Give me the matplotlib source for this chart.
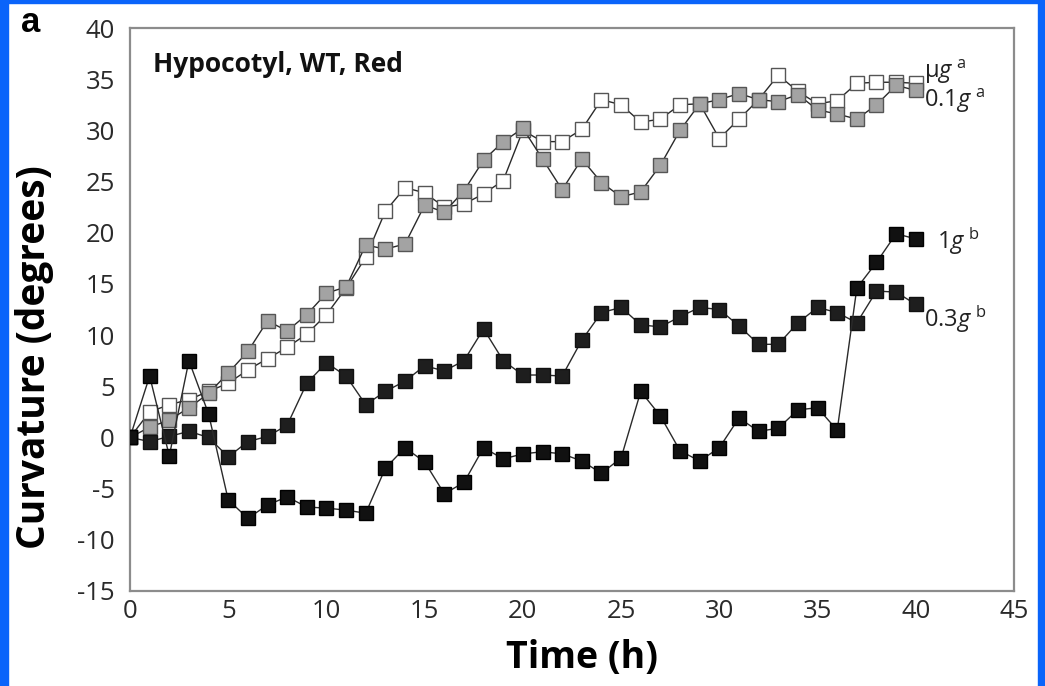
import matplotlib
matplotlib.use("Agg")
import matplotlib.pyplot as plt
from matplotlib.patches import Rectangle

plt.rcParams['font.family'] = ['Open Sans', 'DejaVu Sans']
plt.rcParams['axes.unicode_minus'] = False
plt.rcParams['mathtext.fontset'] = 'custom'
plt.rcParams['mathtext.rm'] = 'Open Sans'
plt.rcParams['mathtext.it'] = 'Open Sans:italic'

hours = list(range(41))

ug_vals = [0, 2.5, 3.2, 3.7, 4.5, 5.3, 6.6, 7.7, 8.8, 10.1, 12.0, 14.6, 17.6, 22.1,
           24.4, 23.9, 22.5, 22.8, 23.8, 25.1, 30.0, 28.9, 28.9, 30.1, 33.0, 32.5,
           30.8, 31.1, 32.5, 32.6, 29.2, 31.1, 33.0, 35.4, 33.8, 32.6, 32.9, 34.6,
           34.7, 34.7, 34.6]
g01_vals = [0, 1.0, 1.7, 2.9, 4.3, 6.3, 8.4, 11.4, 10.4, 12.0, 14.1, 14.7, 18.8, 18.4,
            18.9, 22.7, 22.0, 24.1, 27.1, 28.9, 30.2, 27.2, 24.2, 27.2, 24.9, 23.5,
            24.0, 26.6, 30.0, 32.6, 33.0, 33.6, 33.0, 32.8, 33.5, 32.0, 31.6, 31.1,
            32.5, 34.4, 33.9]
g03_vals = [0, -0.4, 0.1, 0.6, 0.0, -1.9, -0.4, 0.1, 1.2, 5.3, 7.3, 6.0, 3.2, 4.5,
            5.5, 7.0, 6.5, 7.5, 10.6, 7.5, 6.1, 6.1, 6.0, 9.5, 12.2, 12.7, 11.0, 10.8,
            11.8, 12.7, 12.5, 10.9, 9.1, 9.1, 11.2, 12.7, 12.2, 11.2, 14.3, 14.2, 13.0]
g1_vals = [0, 6.0, -1.8, 7.5, 2.3, -6.1, -7.9, -6.6, -5.8, -6.8, -6.9, -7.1, -7.4,
           -3.0, -1.0, -2.4, -5.5, -4.4, -1.0, -2.1, -1.6, -1.4, -1.6, -2.3, -3.5,
           -2.0, 4.5, 2.1, -1.3, -2.3, -1.0, 1.9, 0.6, 0.9, 2.7, 2.9, 0.7, 14.6,
           17.1, 19.9, 19.4]

x_ticks = [0, 5, 10, 15, 20, 25, 30, 35, 40, 45]
y_ticks = [-15, -10, -5, 0, 5, 10, 15, 20, 25, 30, 35, 40]

fig = plt.figure(figsize=(10.45, 6.86), dpi=100)
W, H = 1045, 686
ax = fig.add_axes([130 / W, 1 - 591 / H, (1014 - 130) / W, (591 - 28) / H])

ms = 9.8
lc = '#2a2a2a'
ax.plot(hours, ug_vals, '-s', color=lc, lw=1.0, ms=ms, mfc='white', mec='#555555', mew=1.0, zorder=2)
ax.plot(hours, g01_vals, '-s', color=lc, lw=1.0, ms=ms, mfc='#a3a3a3', mec='#555555', mew=1.0, zorder=3)
ax.plot(hours, g03_vals, '-s', color=lc, lw=1.0, ms=ms, mfc='#1e1e1e', mec='#111111', mew=1.0, zorder=4)
ax.plot(hours, g1_vals, '-s', color=lc, lw=1.0, ms=ms, mfc='#111111', mec='#000000', mew=1.0, zorder=5)

ax.set_xlim(0, 45)
ax.set_ylim(-15, 40)
ax.set_xticks(x_ticks)
ax.set_yticks(y_ticks)
ax.tick_params(length=0, labelsize=18.5, colors='#2a2a2a')
ax.tick_params(axis='y', pad=11)
ax.tick_params(axis='x', pad=6)
for s in ax.spines.values():
    s.set_color('#8c8c8c')
    s.set_linewidth(1.6)

ax.set_xlabel('Time (h)', fontsize=27, fontweight='bold')
ax.set_ylabel('Curvature (degrees)', fontsize=28, fontweight='bold')
ax.xaxis.set_label_coords(0.511, -0.085)
ax.yaxis.set_label_coords(-0.086, 0.415)

ax.text(0.026, 0.935, 'Hypocotyl, WT, Red', transform=ax.transAxes, fontsize=19,
        fontweight='bold', ha='left', va='center', color='#111111')

lab_kw = dict(fontsize=17, ha='left', va='center', color='#222222')
ax.text(40.4, 35.7, r'$\mathrm{\mu}\mathit{g}^{\ \mathrm{a}}$', **lab_kw)
ax.text(40.4, 32.9, r'$\mathrm{0.1}\mathit{g}^{\ \mathrm{a}}$', **lab_kw)
ax.text(41.1, 19.2, r'$\mathrm{1}\mathit{g}^{\ \mathrm{b}}$', **lab_kw)
ax.text(40.4, 11.6, r'$\mathrm{0.3}\mathit{g}^{\ \mathrm{b}}$', **lab_kw)

fig.text(21 / W, 1 - 22 / H, 'a', fontsize=25, fontweight='bold', ha='left', va='center',
         family=['Liberation Sans', 'DejaVu Sans'])

blue = '#0a64fa'
fig.patches.append(Rectangle((0, 0), 8 / W, 1, transform=fig.transFigure, color=blue, zorder=10))
fig.patches.append(Rectangle((0, 1 - 3 / H), 1, 3 / H, transform=fig.transFigure, color=blue, zorder=10))
fig.patches.append(Rectangle((1 - 7 / W, 0), 7 / W, 1, transform=fig.transFigure, color=blue, zorder=10))

fig.savefig('out.png', dpi=100)
